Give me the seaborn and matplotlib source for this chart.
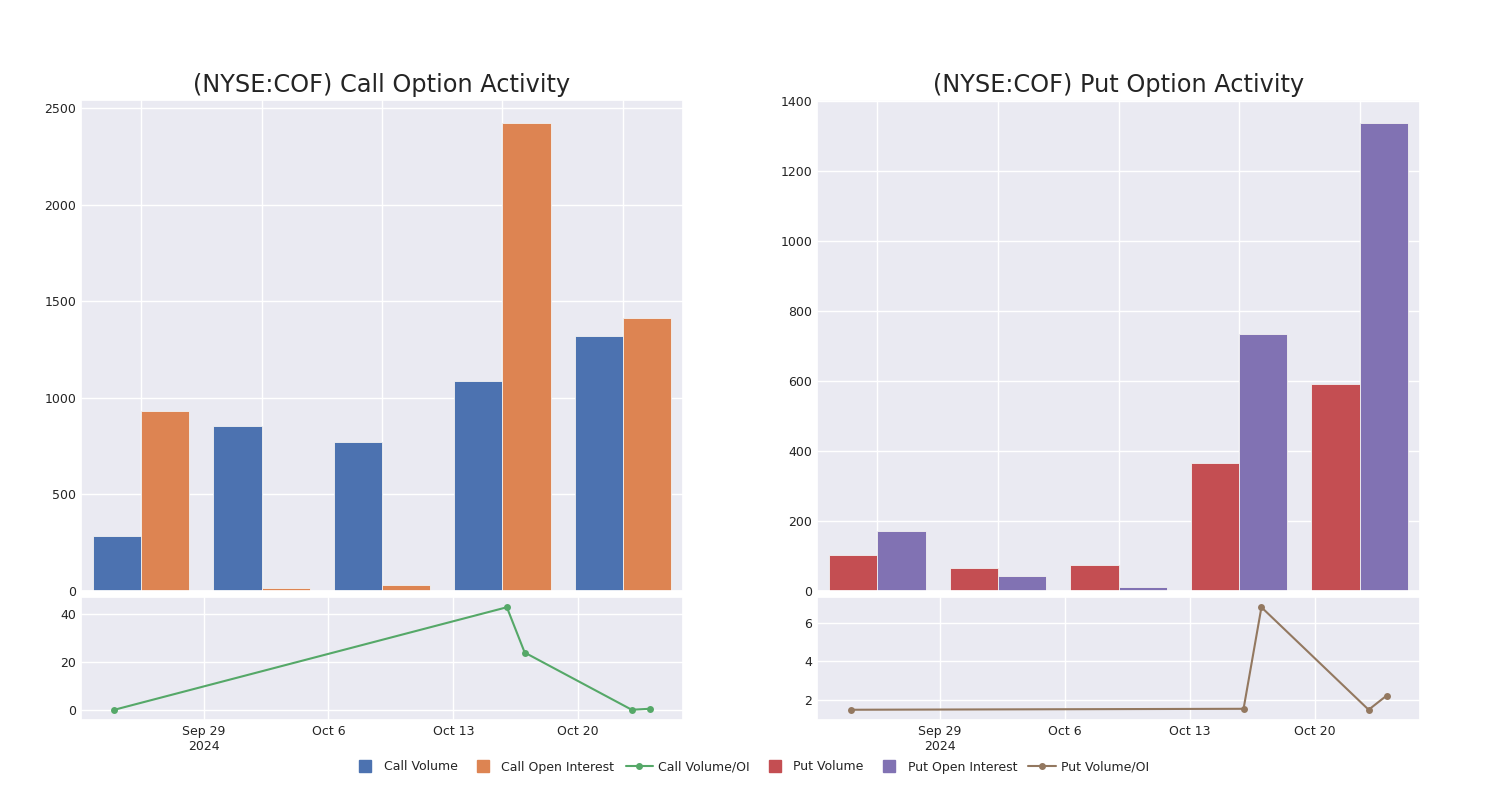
"""Call / put option activity for NYSE:COF, bars on top and Volume/OI below."""

import matplotlib.pyplot as plt
import matplotlib.dates as mdates
import pandas as pd
import seaborn as sns

from matplotlib.lines import Line2D
from matplotlib.ticker import MultipleLocator

# bar groups (the category labels are hidden in the chart)
groups = ["1", "2", "3", "4", "5"]
call_volume = [285, 855, 770, 1085, 1320]
call_oi = [930, 16, 31, 2420, 1415]
put_volume = [103, 65, 75, 365, 590]
put_oi = [172, 42, 10, 735, 1335]

# volume / open interest lines
ratio_dates = ["2024-09-24", "2024-10-16", "2024-10-17", "2024-10-23", "2024-10-24"]
call_ratio = [0.3, 42.6, 23.9, 0.3, 0.7]
put_ratio = [1.48, 1.53, 6.81, 1.48, 2.21]

tick_dates = ["2024-09-29", "2024-10-06", "2024-10-13", "2024-10-20"]
tick_labels = ["Sep 29\n2024", "Oct 6", "Oct 13", "Oct 20"]

pal = sns.color_palette("deep")
BLUE, ORANGE, GREEN, RED, PURPLE, BROWN = pal[0], pal[1], pal[2], pal[3], pal[4], pal[5]
TEXT = "#242424"

sns.set_theme(style="darkgrid")
plt.rcParams["font.family"] = ["DejaVu Sans"]


def bar_panel(ax, vol, oi, names, colors, title):
    df = pd.DataFrame({"group": groups * 2,
                       "value": vol + oi,
                       "series": [names[0]] * len(groups) + [names[1]] * len(groups)})
    sns.barplot(data=df, x="group", y="value", hue="series", palette=colors,
                width=0.8, ax=ax, legend=False, edgecolor="#f2f2f2", linewidth=0.6,
                saturation=1)
    ax.xaxis.grid(True, color="white", lw=1)
    ax.yaxis.grid(True, color="white", lw=1)
    ax.set_xticklabels([])
    ax.set_xlabel("")
    ax.set_ylabel("")
    ax.tick_params(labelsize=9, colors=TEXT, length=0)
    ax.set_title(title, fontsize=17.3, color=TEXT, pad=6)


def ratio_panel(ax, values, color, step):
    df = pd.DataFrame({"date": pd.to_datetime(ratio_dates), "ratio": values})
    sns.lineplot(data=df, x="date", y="ratio", color=color, marker="o",
                 markersize=5, markeredgewidth=0, lw=1.5, ax=ax)
    ax.margins(x=0.0625, y=0.1)
    ax.set_xticks(mdates.date2num(pd.to_datetime(tick_dates)))
    ax.set_xticklabels(tick_labels)
    ax.yaxis.set_major_locator(MultipleLocator(step))
    ax.set_xlabel("")
    ax.set_ylabel("")
    ax.tick_params(labelsize=9, colors=TEXT, length=0)


W, H = 1500, 800
fig = plt.figure(figsize=(15, 8), dpi=100)

ax_call = fig.add_axes([81 / W, (H - 591) / H, 602 / W, 491 / H])
ax_call_r = fig.add_axes([81 / W, (H - 720) / H, 602 / W, 123 / H])
ax_put = fig.add_axes([817 / W, (H - 591) / H, 603 / W, 491 / H])
ax_put_r = fig.add_axes([817 / W, (H - 720) / H, 603 / W, 123 / H])

bar_panel(ax_call, call_volume, call_oi, ["Call Volume", "Call Open Interest"],
          [BLUE, ORANGE], "(NYSE:COF) Call Option Activity")
bar_panel(ax_put, put_volume, put_oi, ["Put Volume", "Put Open Interest"],
          [RED, PURPLE], "(NYSE:COF) Put Option Activity")
ratio_panel(ax_call_r, call_ratio, GREEN, 20)
ratio_panel(ax_put_r, put_ratio, BROWN, 2)

handles = [
    Line2D([], [], ls="none", marker="s", ms=8, color=BLUE, label="Call Volume"),
    Line2D([], [], ls="none", marker="s", ms=8, color=ORANGE, label="Call Open Interest"),
    Line2D([], [], marker="o", ms=4, lw=1.5, color=GREEN, label="Call Volume/OI"),
    Line2D([], [], ls="none", marker="s", ms=8, color=RED, label="Put Volume"),
    Line2D([], [], ls="none", marker="s", ms=8, color=PURPLE, label="Put Open Interest"),
    Line2D([], [], marker="o", ms=4, lw=1.5, color=BROWN, label="Put Volume/OI"),
]
fig.legend(handles=handles, loc="center", bbox_to_anchor=(0.5, (H - 767) / H),
           ncol=6, frameon=False, fontsize=9, handlelength=2.2,
           handletextpad=0.4, columnspacing=0.9, labelcolor=TEXT)

fig.savefig("out.png", dpi=100)
